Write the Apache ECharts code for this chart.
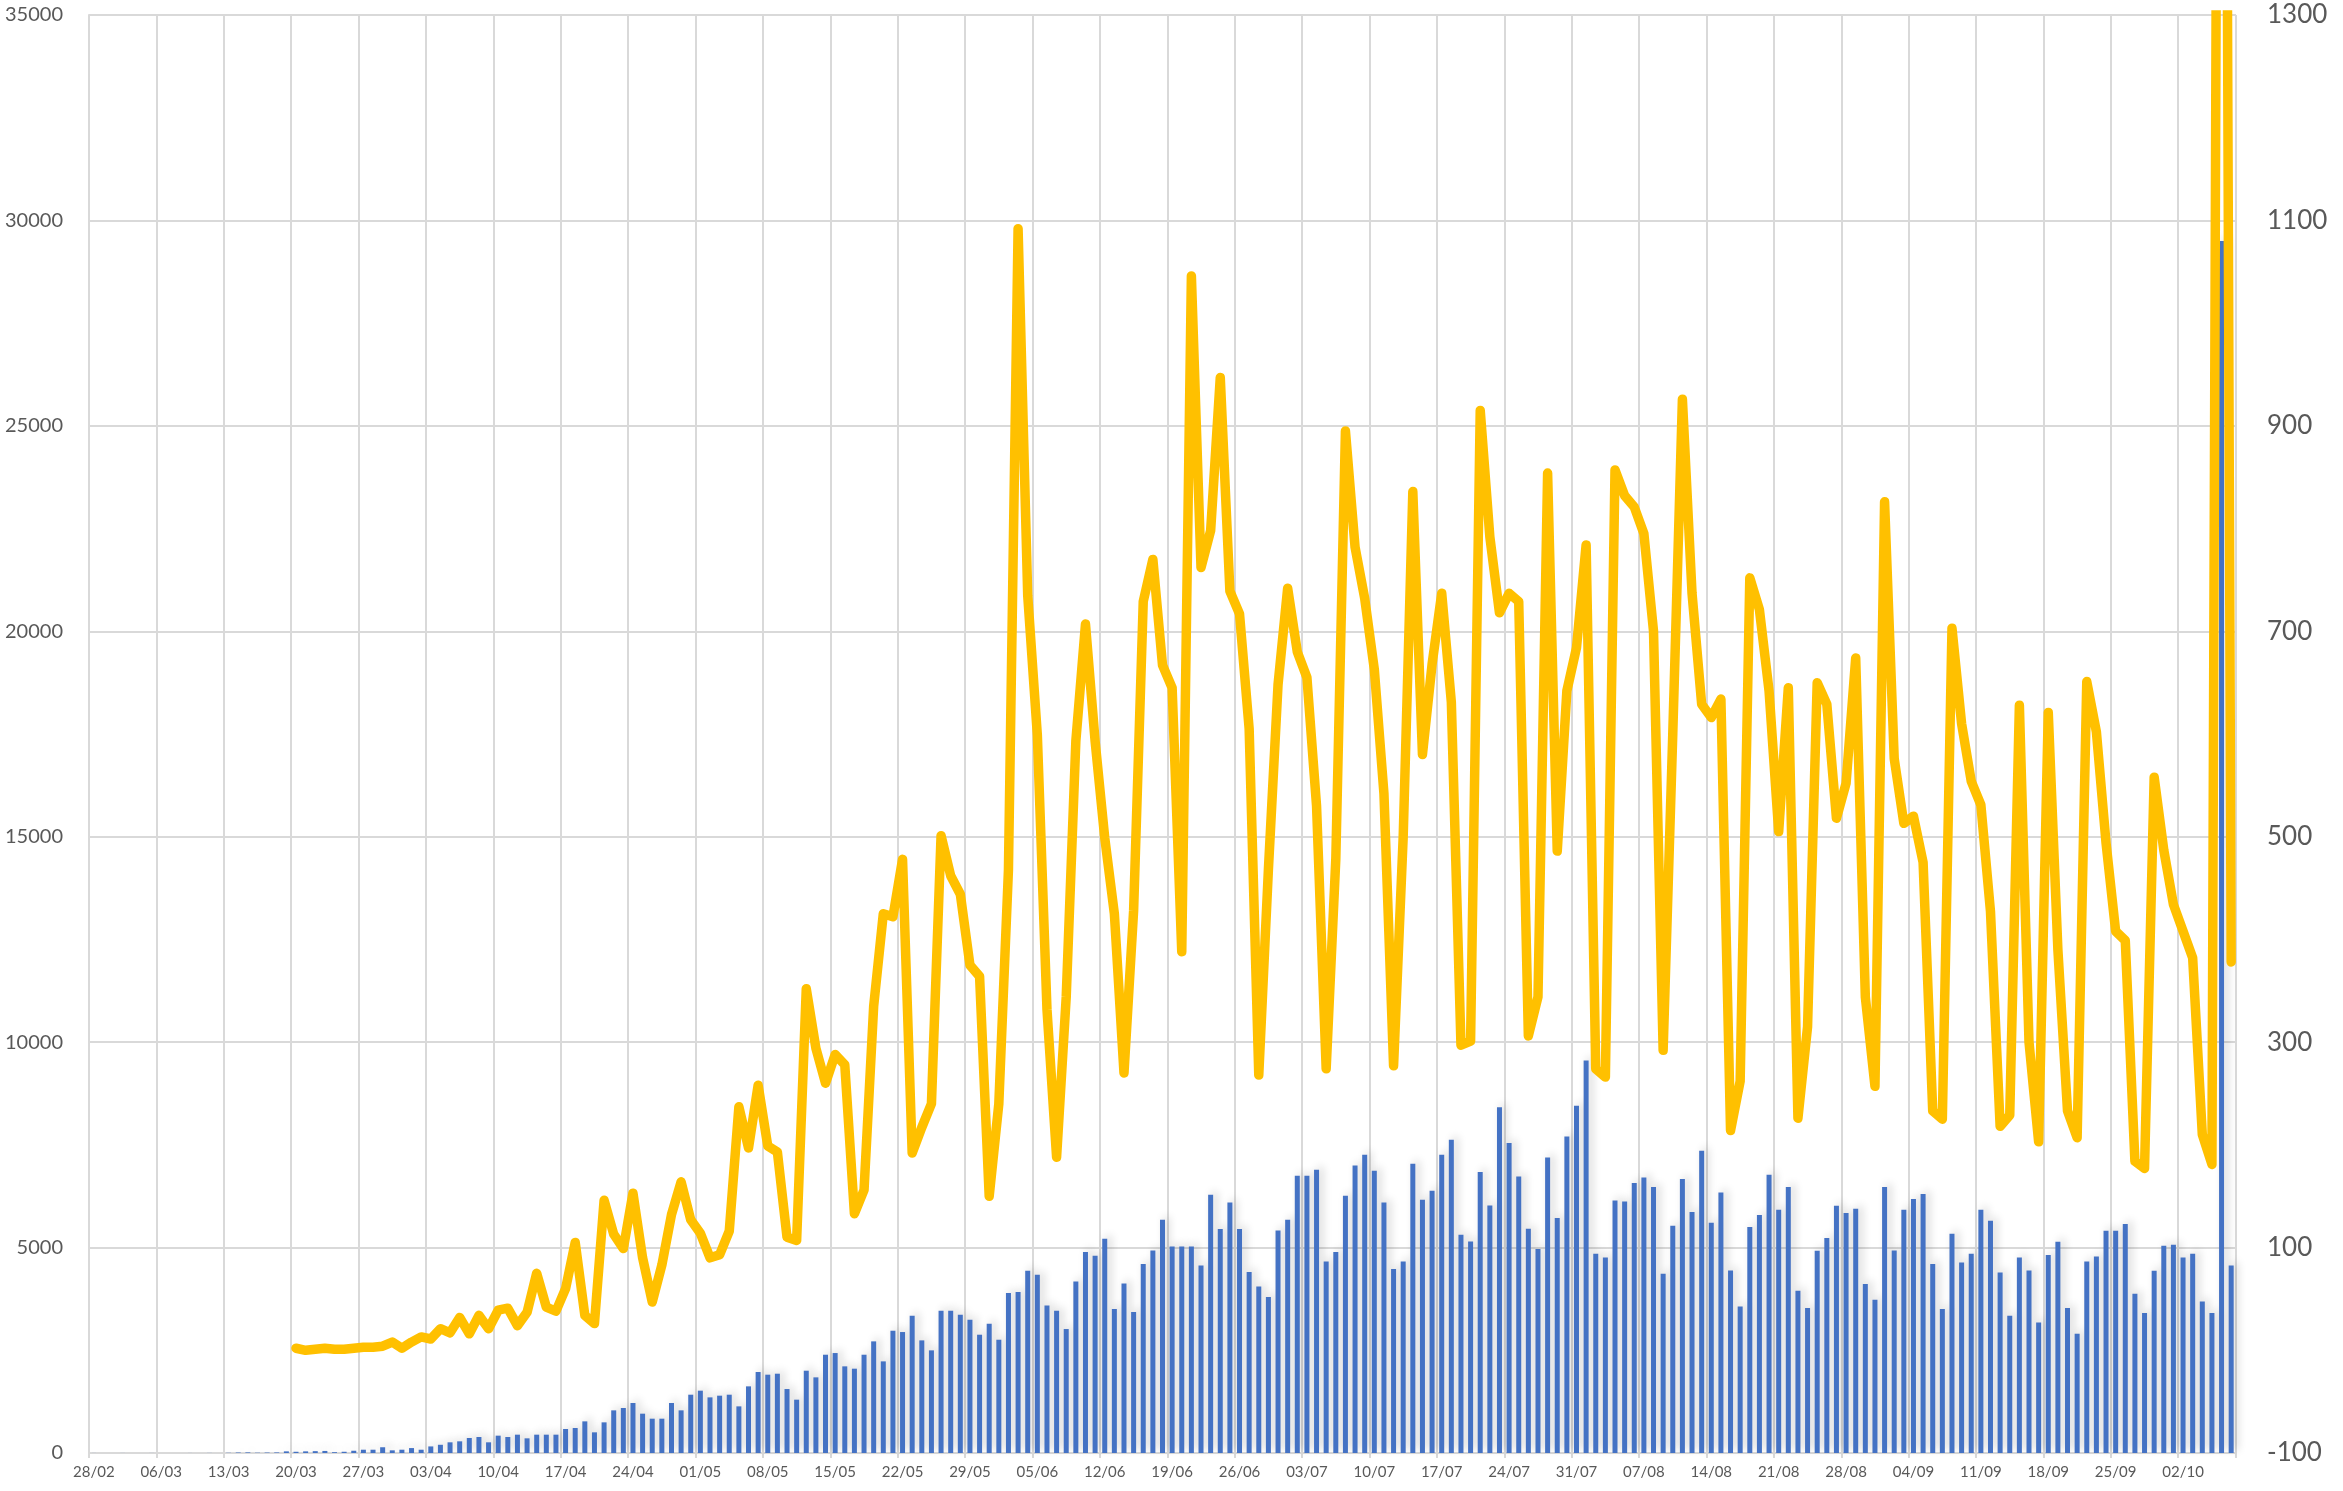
<!DOCTYPE html>
<html>
<head>
<meta charset="utf-8">
<script src="https://cdn.jsdelivr.net/npm/echarts@6/dist/echarts.min.js"></script>
<style>
  html, body { margin: 0; padding: 0; background: #fff; }
  #chart { width: 2343px; height: 1491px; }
</style>
</head>
<body>
<div id="chart"></div>
<script>
// daily categories, 28/02 to 07/10
var startDay = new Date(2020, 1, 28);
var days = [];
for (var i = 0; i < 223; i++) {
  var d = new Date(startDay.getTime());
  d.setDate(d.getDate() + i);
  var dd = ('0' + d.getDate()).slice(-2);
  var mm = ('0' + (d.getMonth() + 1)).slice(-2);
  days.push(dd + '/' + mm);
}

// new cases per day (left axis)
var cases = [
  1, 0, 0, 1, 0, 0, 1, 0, 0, 0, 1, 0, 2, 0, 5, 12, 15, 7, 11, 14,
  40, 30, 40, 45, 50, 20, 30, 55, 80, 80, 140, 65, 80, 120, 80, 160,
  200, 260, 284, 365, 390, 260, 422, 390, 446, 357, 446, 446, 446, 584,
  608, 770, 503, 746, 1038, 1095, 1217, 957, 835, 835, 1217, 1038, 1419, 1517,
  1354, 1395, 1419, 1135, 1622, 1971, 1906, 1930, 1557, 1298,
  2003, 1841, 2392, 2433, 2109, 2052, 2392, 2717, 2230, 2976, 2944, 3341, 2741, 2498,
  3463, 3463, 3366, 3244, 2879, 3147, 2757, 3893, 3917, 4436, 4339, 3593, 3463, 3017,
  4177, 4890, 4801, 5215, 3504, 4128, 3430, 4598, 4931,
  5677, 5028, 5028, 5028, 4566, 6285, 5450, 6099, 5450, 4404, 4055, 3795, 5417, 5677,
  6748, 6748, 6894, 4663, 4890, 6261, 6999, 7258, 6869, 6099, 4477, 4663, 7039, 6164,
  6383, 7258, 7624, 5312, 5150, 6837, 6026, 8418, 7543, 6731,
  5458, 4963, 7194, 5718, 7705, 8451, 9554, 4850, 4761, 6147, 6123, 6569, 6707, 6472,
  4363, 5531, 6666, 5864, 7356, 5604, 6342, 4444, 3568, 5499, 5791, 6771, 5920, 6472,
  3950, 3528, 4923, 5231, 6018, 5839, 5945, 4112, 3731,
  6472, 4931, 5920, 6180, 6301, 4598, 3504, 5336, 4639, 4850, 5920, 5653, 4396, 3341,
  4761, 4444, 3179, 4818, 5142, 3528, 2903, 4663, 4785, 5409, 5409, 5572, 3877, 3406,
  4436, 5044, 5069, 4761, 4850, 3690, 3406, 29500, 4566
];

// deaths per day (right axis)
var deaths = [
  null, null, null, null, null, null, null, null, null, null, null, null, null, null,
  null, null, null, null, null, null, null,
  2, 0, 1, 2, 1, 1, 2, 3, 3, 4, 8, 2, 8, 13, 11, 21, 17, 32, 16, 34, 21, 39, 41, 24,
  37, 75, 42, 38, 60, 105, 34, 26, 146, 113, 99, 153, 90, 47, 83, 132, 164, 127, 114,
  90, 93, 116, 237, 197, 258, 199, 193, 110, 107,
  352, 294, 260, 288, 278, 133, 156, 335, 425, 422, 478, 192, 217, 240, 501, 462, 444,
  375, 364, 150, 240, 468, 1092, 735, 599, 332, 188, 344, 593, 707, 593, 499, 425, 270,
  428, 729, 770, 667, 645, 388, 1046, 762, 798, 947, 739, 717, 605, 268, 468, 648, 742,
  680, 655, 530, 274,
  478, 895, 782, 732, 663, 542, 277, 500, 836, 580, 668, 737, 631, 297, 301, 915, 792,
  718, 737, 729, 306, 344, 854, 486, 642, 684, 784, 274, 266, 857, 832, 821, 795, 700,
  292, 600, 926, 737, 629, 616, 634, 214, 262, 752, 721, 642, 505, 645, 226, 315, 650,
  629, 518, 552, 674, 344, 257,
  826, 576, 513, 520, 475, 233, 225, 703, 610, 554, 531, 427, 218, 229, 628, 300, 203,
  621, 390, 233, 207, 651, 602, 494, 408, 399, 184, 177, 558, 487, 434, 408, 382, 210,
  181, 2789, 378
];

var leftTicks = { min: 0, max: 35000, step: 5000 };
var rightTicks = { min: -100, max: 1300, step: 200 };

var chart = echarts.init(document.getElementById('chart'), null, {renderer: 'canvas'});

var gridGray = '#d9d9d9';
var textGray = '#595959';

// plain numbers, no thousands separator
function plain(v) { return String(v); }

chart.setOption({
  animation: false,
  backgroundColor: '#ffffff',
  textStyle: { fontFamily: 'Lato, "Open Sans", sans-serif' },
  grid: { left: 89, right: 107, top: 15, bottom: 38, containLabel: false },
  xAxis: {
    type: 'category',
    data: days,
    boundaryGap: true,
    axisLine: { show: true, lineStyle: { color: gridGray, width: 2 } },
    axisTick: { show: true, interval: 6, length: 5, lineStyle: { color: gridGray, width: 2 } },
    axisLabel: { interval: 6, fontSize: 15, color: textGray, margin: 12 },
    splitLine: { show: true, interval: 6, lineStyle: { color: gridGray, width: 2 } }
  },
  yAxis: [
    {
      type: 'value',
      min: leftTicks.min, max: leftTicks.max, interval: leftTicks.step,
      axisLine: { show: true, lineStyle: { color: gridGray, width: 2 } },
      axisTick: { show: false },
      axisLabel: { fontSize: 20, color: textGray, margin: 26, formatter: plain },
      splitLine: { show: true, lineStyle: { color: gridGray, width: 2 } }
    },
    {
      type: 'value',
      min: rightTicks.min, max: rightTicks.max, interval: rightTicks.step,
      position: 'right',
      axisLine: { show: false },
      axisTick: { show: false },
      axisLabel: { fontSize: 26, color: textGray, margin: 31, formatter: plain },
      splitLine: { show: false }
    }
  ],
  series: [
    {
      name: 'cases',
      type: 'bar',
      data: cases,
      yAxisIndex: 0,
      barWidth: 5,
      itemStyle: {
        color: '#4472c4',
        shadowColor: 'rgba(0,0,0,0.18)',
        shadowBlur: 8,
        shadowOffsetX: 4,
        shadowOffsetY: -3
      }
    },
    {
      name: 'deaths',
      type: 'line',
      data: deaths,
      yAxisIndex: 1,
      showSymbol: false,
      symbol: 'none',
      connectNulls: false,
      clip: true,
      lineStyle: { color: '#ffc000', width: 9.5, join: 'round', cap: 'round' },
      z: 3
    }
  ]
});
</script>
</body>
</html>
